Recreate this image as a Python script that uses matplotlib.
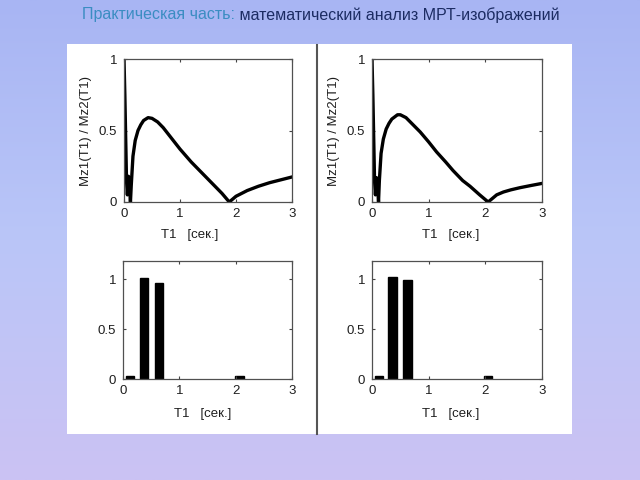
import matplotlib
matplotlib.use("Agg")
import matplotlib.pyplot as plt
import numpy as np
from matplotlib.colors import LinearSegmentedColormap

# ---- data ----
t_left = [0, 0.015, 0.03, 0.045, 0.06, 0.08, 0.1, 0.115, 0.13, 0.16, 0.2, 0.25, 0.3, 0.35,
          0.43, 0.5, 0.6, 0.7, 0.8, 0.9, 1.0, 1.2, 1.4, 1.6, 1.75, 1.88, 2.0, 2.2, 2.4,
          2.6, 2.8, 3.0]
ratio_left = [1.0, 0.75, 0.45, 0.15, 0.05, 0.18, 0.1, 0.0, 0.12, 0.32, 0.43, 0.5, 0.54, 0.57,
              0.59, 0.585, 0.56, 0.52, 0.47, 0.42, 0.37, 0.28, 0.2, 0.12, 0.06, 0.0, 0.04,
              0.08, 0.11, 0.135, 0.155, 0.175]

t_right = [0, 0.015, 0.03, 0.045, 0.06, 0.08, 0.1, 0.115, 0.13, 0.16, 0.2, 0.25, 0.3, 0.35,
           0.45, 0.5, 0.6, 0.7, 0.85, 1.0, 1.14, 1.3, 1.43, 1.6, 1.73, 1.9, 2.05, 2.2, 2.32,
           2.45, 2.61, 2.8, 3.0]
ratio_right = [1.0, 0.75, 0.45, 0.15, 0.05, 0.17, 0.1, 0.0, 0.15, 0.34, 0.44, 0.51, 0.55, 0.58,
               0.61, 0.61, 0.59, 0.55, 0.49, 0.42, 0.35, 0.28, 0.22, 0.15, 0.11, 0.05, 0.0,
               0.05, 0.07, 0.085, 0.10, 0.115, 0.13]

bar_t_left = [0.12, 0.37, 0.635, 2.07]
bar_h_left = [0.03, 1.01, 0.96, 0.03]
bar_t_right = [0.125, 0.365, 0.63, 2.045]
bar_h_right = [0.03, 1.02, 0.99, 0.03]

xticks = [0, 1, 2, 3]
yticks = [0, 0.5, 1]
ytick_labels = ["0", "0.5", "1"]
xlabel = "T1   [сек.]"
ylabel = "Mz1(T1) / Mz2(T1)"
title_a = "Практическая часть:"
title_b = " математический анализ МРТ-изображений"

# ---- figure ----
fig = plt.figure(figsize=(6.4, 4.8), dpi=100)
W, H = 640, 480

# background gradient
bg = fig.add_axes([0, 0, 1, 1])
bg.set_axis_off()
cmap = LinearSegmentedColormap.from_list(
    "bg", [(0.0, "#a8b5f3"), (0.5, "#bac6f8"), (1.0, "#cbc2f3")])
grad = np.linspace(0, 1, 256).reshape(-1, 1)
bg.imshow(grad, aspect="auto", cmap=cmap, extent=[0, 1, 0, 1], origin="upper")
bg.set_xlim(0, 1)
bg.set_ylim(0, 1)


def px(x0, y0, x1, y1):
    return [x0 / W, 1 - y1 / H, (x1 - x0) / W, (y1 - y0) / H]


panel = plt.Rectangle((67 / W, 1 - 434 / H), (572 - 67) / W, (434 - 44) / H,
                      transform=fig.transFigure, facecolor="white", edgecolor="none",
                      zorder=1)
bg.add_patch(panel)
bg.plot([316.5 / W, 316.5 / W], [1 - 45 / H, 1 - 434 / H], color="#555555",
        lw=1.5, transform=fig.transFigure, zorder=2)

tick_font = dict(family="Liberation Sans", size=9.5, color="#1e1e1e")


def style(ax, ylim, xlabel_x=0.5, xlabel_y=-0.19):
    ax.set_xlim(0, 3)
    ax.set_ylim(*ylim)
    ax.set_xticks(xticks)
    ax.set_xticklabels([str(v) for v in xticks], **tick_font)
    ax.set_yticks(yticks)
    ax.set_yticklabels(ytick_labels, **tick_font)
    ax.tick_params(axis="x", direction="in", top=True, length=2.5, width=0.8,
                   color="#444444", pad=4)
    ax.tick_params(axis="y", direction="in", right=True, length=2.5, width=0.8,
                   color="#444444", pad=5)
    for s in ax.spines.values():
        s.set_color("#505050")
        s.set_linewidth(0.9)
    ax.set_xlabel(xlabel, **tick_font)
    ax.xaxis.set_label_coords(xlabel_x, xlabel_y)


ax1 = fig.add_axes(px(124, 59, 292, 202))
ax1.plot(t_left, ratio_left, color="black", lw=2.4)
style(ax1, (0, 1), xlabel_x=0.39, xlabel_y=-0.19)
ax1.set_ylabel(ylabel, labelpad=5, **tick_font)

ax2 = fig.add_axes(px(372, 59, 542, 202))
ax2.plot(t_right, ratio_right, color="black", lw=2.4)
style(ax2, (0, 1), xlabel_x=0.46, xlabel_y=-0.19)
ax2.set_ylabel(ylabel, labelpad=5, **tick_font)

ax3 = fig.add_axes(px(123, 261, 292, 379))
ax3.bar(bar_t_left, bar_h_left, width=0.15, color="black", edgecolor="black", lw=1.0)
style(ax3, (0, 1.18), xlabel_x=0.47, xlabel_y=-0.25)

ax4 = fig.add_axes(px(372, 261, 542, 379))
ax4.bar(bar_t_right, bar_h_right, width=0.15, color="black", edgecolor="black", lw=1.0)
style(ax4, (0, 1.18), xlabel_x=0.46, xlabel_y=-0.25)

# title in two colours
renderer = fig.canvas.get_renderer()
ta = fig.text(0, 1 - 15 / H, title_a, family="Liberation Sans", size=11.5,
              color="#3b8dc2", va="center", ha="left")
tb = fig.text(0, 1 - 15 / H, title_b, family="Liberation Sans", size=11.5,
              color="#1c2c63", va="center", ha="left")
wa = ta.get_window_extent(renderer).width
wb = tb.get_window_extent(renderer).width
x0 = (W / 2 + 1 - (wa + wb) / 2)
ta.set_x(x0 / W)
tb.set_x((x0 + wa) / W)

fig.savefig("out.png", dpi=100)
